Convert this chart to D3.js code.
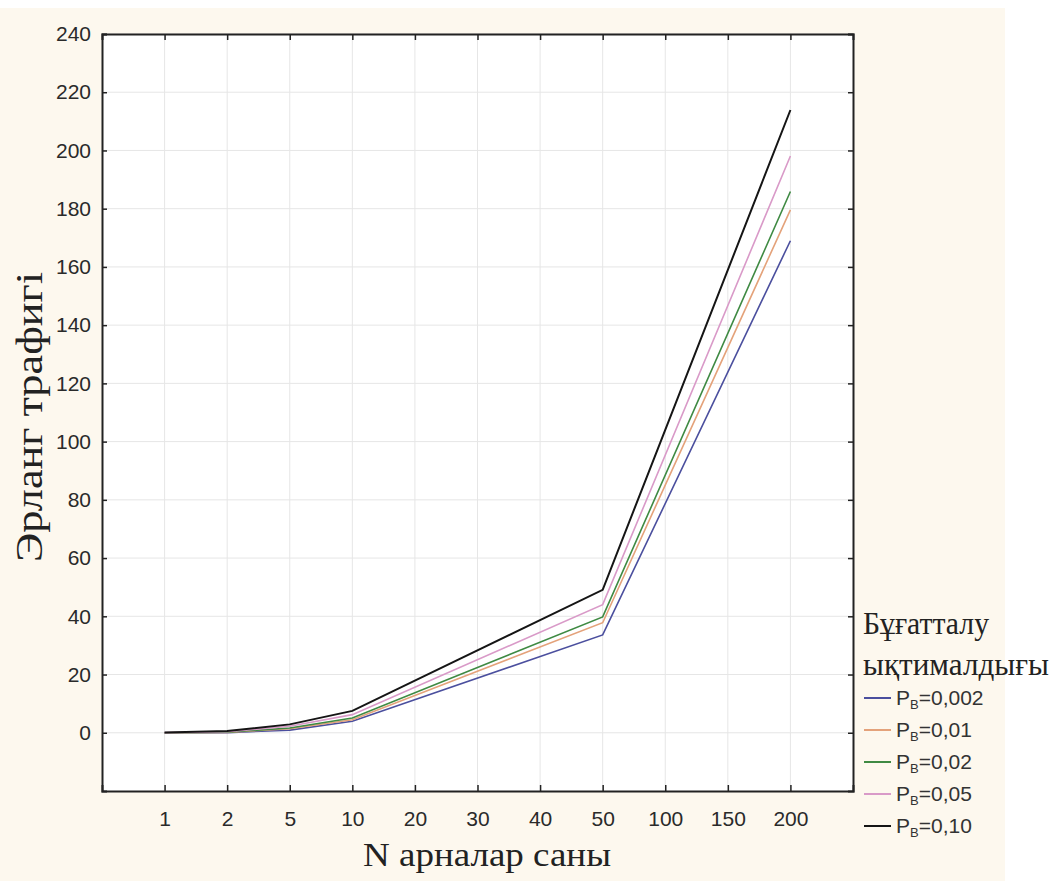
<!DOCTYPE html>
<html><head><meta charset="utf-8">
<script src="https://cdn.jsdelivr.net/npm/d3@7"></script>
<style>
html,body{margin:0;padding:0;background:#fff;}
svg{display:block;}
</style></head>
<body>
<script>
const categories = ["1","2","5","10","20","30","40","50","100","150","200"];
const dataN = ["1","2","5","10","50","200"];
const seriesNames = ["0,002","0,01","0,02","0,05","0,10"];
const s002 = [0.002, 0.065, 0.90, 3.96, 33.6, 169.0];
const s01  = [0.01, 0.15, 1.36, 4.46, 37.8, 179.6];
const s02  = [0.02, 0.22, 1.66, 5.08, 39.8, 185.9];
const s05  = [0.05, 0.38, 2.22, 6.22, 44.0, 198.1];
const s10  = [0.11, 0.60, 2.88, 7.51, 49.1, 213.9];
const yTicks = [0,20,40,60,80,100,120,140,160,180,200,220,240];
const colors = ["#4b4f9e","#e4a27a","#3f8a43","#d99ac8","#151515"];
const allSeries = [s002,s01,s02,s05,s10];

const W=1055,H=881;
const svg=d3.select("body").append("svg").attr("width",W).attr("height",H);
svg.append("rect").attr("x",0).attr("y",8).attr("width",1005).attr("height",H-8).attr("fill","#fdf8ee");

const L=102,T=34,R=853,B=791;
const x=d3.scalePoint().domain(categories).range([L,R]).padding(1);
const y=d3.scaleLinear().domain([-20,240]).range([B,T]);

svg.append("rect").attr("x",L).attr("y",T).attr("width",R-L).attr("height",B-T).attr("fill","#fff");

// grid
svg.append("g").selectAll("line").data(categories).join("line")
  .attr("x1",d=>x(d)).attr("x2",d=>x(d)).attr("y1",T).attr("y2",B)
  .attr("stroke","#e6e6e6").attr("stroke-width",1);
svg.append("g").selectAll("line").data(yTicks).join("line")
  .attr("x1",L).attr("x2",R).attr("y1",d=>y(d)).attr("y2",d=>y(d))
  .attr("stroke","#e6e6e6").attr("stroke-width",1);

// lines
const line=d3.line().x((d,i)=>x(dataN[i])).y(d=>y(d));
allSeries.forEach((s,k)=>{
  svg.append("path").datum(s).attr("d",line).attr("fill","none")
    .attr("stroke",colors[k]).attr("stroke-width",k===4?2:1.6);
});

// axes
const fontTick="Arial, 'Liberation Sans', sans-serif";
const axB=svg.append("g").attr("transform",`translate(0,${B})`)
  .call(d3.axisBottom(x).tickSize(-6).tickPadding(20));
const axT=svg.append("g").attr("transform",`translate(0,${T})`)
  .call(d3.axisTop(x).tickSize(-6).tickFormat(""));
const axL=svg.append("g").attr("transform",`translate(${L},0)`)
  .call(d3.axisLeft(y).tickValues(yTicks).tickSize(-5).tickPadding(11));
const axR=svg.append("g").attr("transform",`translate(${R},0)`)
  .call(d3.axisRight(y).tickValues(yTicks).tickSize(-5).tickFormat(""));
[axB,axT,axL,axR].forEach(a=>{
  a.select(".domain").attr("stroke","#222").attr("stroke-width",2);
  a.selectAll(".tick line").attr("stroke","#222").attr("stroke-width",1.5);
  a.selectAll("text").attr("font-family",fontTick).attr("font-size",21).attr("fill","#2a2a2a");
});

// titles
const serif="'Liberation Serif','Times New Roman',serif";
svg.append("text").attr("x",487).attr("y",866).attr("text-anchor","middle")
  .attr("font-family",serif).attr("font-size",34).attr("fill","#222")
  .attr("textLength",248).attr("lengthAdjust","spacingAndGlyphs")
  .text("N арналар саны");
svg.append("text").attr("transform","translate(42,417) rotate(-90)").attr("text-anchor","middle")
  .attr("font-family",serif).attr("font-size",37).attr("fill","#222")
  .attr("textLength",290).attr("lengthAdjust","spacingAndGlyphs")
  .text("Эрланг трафигі");

// legend
const lg=svg.append("g");
lg.append("text").attr("x",863).attr("y",634).attr("font-family",serif)
  .attr("font-size",31).attr("fill","#222")
  .attr("textLength",126).attr("lengthAdjust","spacingAndGlyphs").text("Бұғатталу");
lg.append("text").attr("x",863).attr("y",675).attr("font-family",serif)
  .attr("font-size",31).attr("fill","#222")
  .attr("textLength",186).attr("lengthAdjust","spacingAndGlyphs").text("ықтималдығы");
seriesNames.forEach((n,k)=>{
  const yy=698+k*32;
  lg.append("line").attr("x1",864).attr("x2",891).attr("y1",yy).attr("y2",yy)
    .attr("stroke",colors[k]).attr("stroke-width",2);
  const t=lg.append("text").attr("x",896).attr("y",yy+7).attr("font-family",fontTick)
    .attr("font-size",21).attr("fill","#333");
  t.append("tspan").text("P");
  t.append("tspan").attr("font-size",13).attr("dy",4).text("B");
  t.append("tspan").attr("dy",-4).text("="+n);
});
</script>
</body></html>
